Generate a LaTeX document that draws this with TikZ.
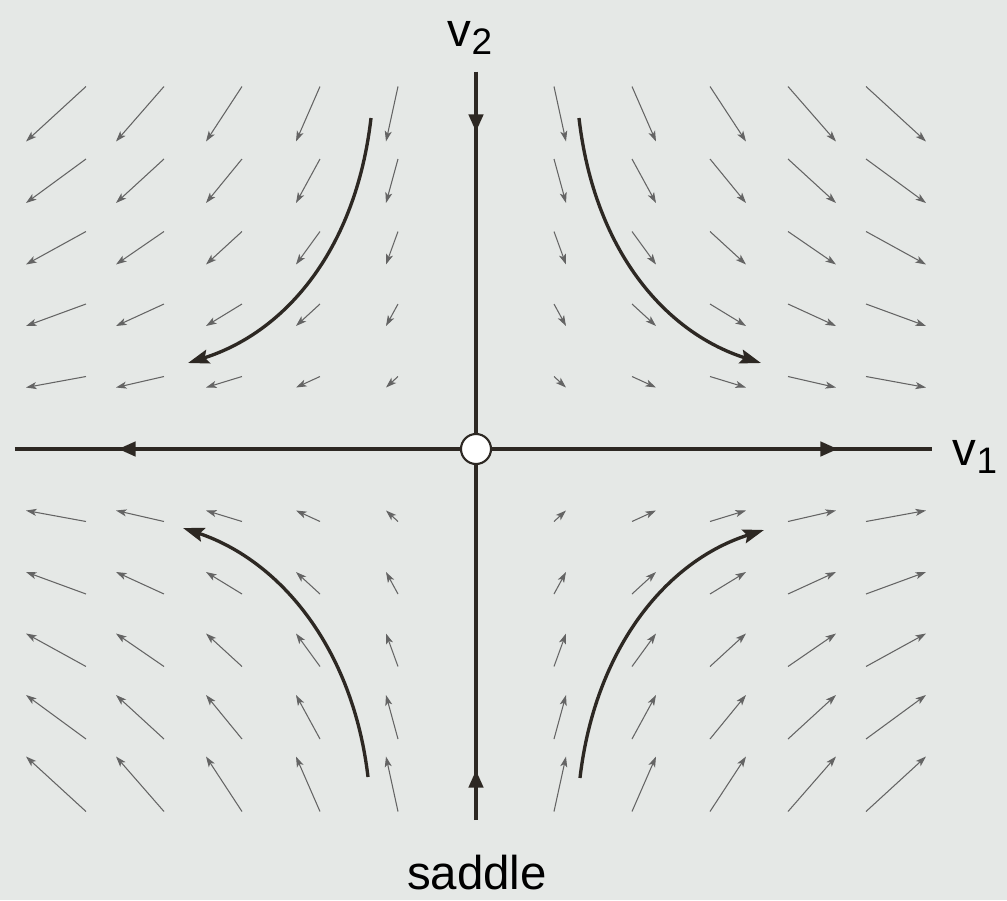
\documentclass[tikz,border=0pt]{standalone}
\usepackage{fontspec}
\setmainfont{Liberation Sans}
\usetikzlibrary{arrows.meta}
\definecolor{bg}{RGB}{229,232,230}
\definecolor{ink}{RGB}{45,40,35}
\definecolor{fieldgray}{RGB}{100,100,100}
\begin{document}
\begin{tikzpicture}[x=0.02cm,y=0.02cm,
  field/.style={draw=fieldgray,line width=0.6pt,-{Stealth[length=6pt,width=4pt,inset=1.5pt]}},
  axisline/.style={draw=ink,line width=2.3pt},
  axisarrow/.style={draw=ink,line width=2.3pt,-{Triangle[length=10pt,width=8pt]}},
  traj/.style={draw=ink,line width=1.9pt,-{Stealth[length=12pt,width=8pt,inset=2pt]}},
  lbl/.style={font=\fontsize{27}{30}\selectfont,text=black,inner sep=0pt},
  fixpt/.style={circle,draw=ink,fill=white,line width=1.2pt,minimum size=0.6cm,inner sep=0pt}]
\fill[bg] (-476,-451) rectangle (531,449);
\useasboundingbox (-476,-451) rectangle (531,449);
% vector field
\foreach \i in {-5,-4,-3,-2,-1,1,2,3,4,5}
  \foreach \j in {-5,-4,-3,-2,-1,1,2,3,4,5}
    \draw[field] ({84*\i-6*\i},{67*\j+5.5*\j}) -- ({84*\i+6*\i},{67*\j-5.5*\j});
% axes
\coordinate (L) at (-461,0);
\coordinate (R) at (456,0);
\coordinate (T) at (0,377);
\coordinate (B) at (0,-371);
\coordinate (o) at (0,0);
\coordinate (aL) at (-358,0);
\coordinate (aR) at (362,0);
\coordinate (aT) at (0,317);
\coordinate (aB) at (0,-321);
\draw[axisline] (L) -- (R);
\draw[axisline] (T) -- (B);
\draw[axisarrow] (o) -- (aL);
\draw[axisarrow] (o) -- (aR);
\draw[axisarrow] (T) -- (aT);
\draw[axisarrow] (B) -- (aB);
\node[fixpt] (c) at (o) {};
% trajectories
\coordinate (s1) at (-105,331); \coordinate (e1) at (-288,86);
\coordinate (s2) at (103,331);  \coordinate (e2) at (285,86);
\coordinate (s3) at (-108,-328); \coordinate (e3) at (-293,-79);
\coordinate (s4) at (104,-329); \coordinate (e4) at (288,-81);
\draw[traj] (s1) .. controls (-120,200) and (-190,117) .. (e1);
\draw[traj] (s2) .. controls (118,200) and (188,117) .. (e2);
\draw[traj] (s3) .. controls (-123,-200) and (-195,-112) .. (e3);
\draw[traj] (s4) .. controls (119,-200) and (190,-112) .. (e4);
% labels
\node[lbl] (v2) at (-6,411) {v\raisebox{-0.35ex}{\fontsize{21}{21}\selectfont 2}};
\node[lbl] (v1) at (499,-8) {v\raisebox{-0.35ex}{\fontsize{21}{21}\selectfont 1}};
\node[lbl] (sd) at (1,-424) {saddle};
\end{tikzpicture}
\end{document}
